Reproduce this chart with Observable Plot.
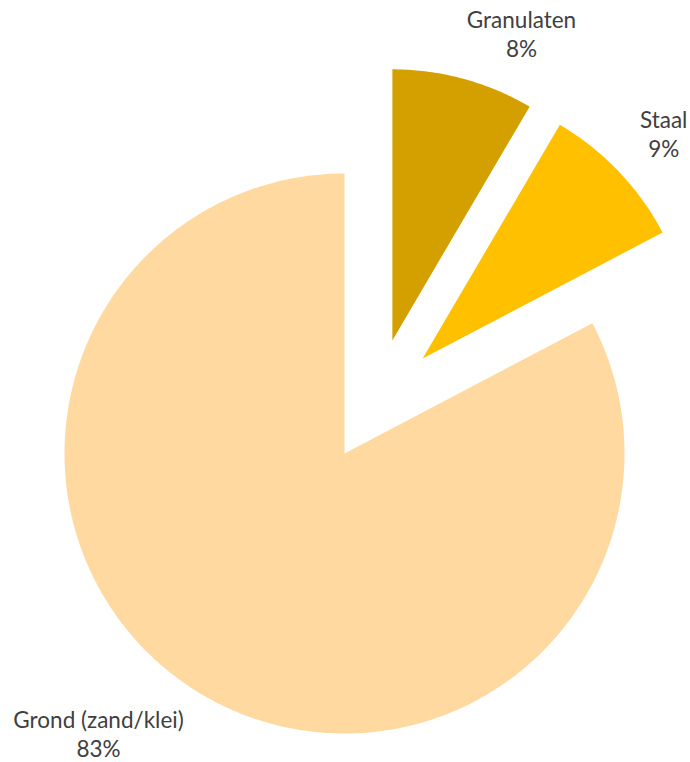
<!DOCTYPE html>
<html>
<head>
<meta charset="utf-8">
<script src="https://cdn.jsdelivr.net/npm/d3@7"></script>
<script src="https://cdn.jsdelivr.net/npm/@observablehq/plot@0.6"></script>
<style>
  html, body { margin: 0; padding: 0; background: #fff; }
  #chart svg { display: block; }
</style>
</head>
<body>
<div id="chart"></div>
<script>
// Data
const categories = ["Granulaten", "Staal", "Grond (zand/klei)"];
const shares = [8.45, 8.85, 82.7];           // percent
const percentLabels = ["8%", "9%", "83%"];

// Styling (not data)
const colors = ["#D4A000", "#FFC000", "#FFD9A0"];
const sliceRadius = [0.968, 0.968, 1.0];      // relative radius
const explode = [[0.171, 0.404], [0.279, 0.339], [0, 0]]; // slice offsets (x, y-up)
const labelPolar = [[1.628, 22.85], [1.615, 44.9], [1.331, 221.3]]; // [r, angle deg]

const W = 690, H = 762, R = 280, CX = 344, CY = 453;

const pie = d3.pie().sort(null).value(d => d.value);
const arcs = pie(categories.map((c, i) => ({name: c, value: shares[i], i})));

const polys = arcs.map(a => {
  const i = a.data.i;
  const [ox, oy] = explode[i];
  const r = sliceRadius[i];
  const pts = [{name: a.data.name, x: ox, y: oy}];
  const n = Math.max(8, Math.ceil((a.endAngle - a.startAngle) / 0.01));
  for (let k = 0; k <= n; k++) {
    const t = a.startAngle + (a.endAngle - a.startAngle) * k / n;
    pts.push({name: a.data.name, x: ox + r * Math.sin(t), y: oy + r * Math.cos(t)});
  }
  return pts;
});

const labels = arcs.map(a => {
  const i = a.data.i;
  const [lr, ang] = labelPolar[i];
  const t = ang * Math.PI / 180;
  return {x: lr * Math.sin(t), y: lr * Math.cos(t), text: categories[i] + "\n" + percentLabels[i]};
});

const chart = Plot.plot({
  width: W,
  height: H,
  margin: 0,
  x: {domain: [-CX / R, (W - CX) / R], range: [0, W], axis: null},
  y: {domain: [CY / R, -(H - CY) / R], range: [0, H], axis: null},
  marks: [
    ...polys.map((pts, i) => Plot.line(pts, {
      x: "x", y: "y", curve: "linear-closed", fill: colors[i], stroke: null
    })),
    Plot.text(labels, {
      x: "x", y: "y", text: "text",
      fontSize: 22.5, lineHeight: 1.3, fill: "#404040",
      fontFamily: "Lato, 'Open Sans', sans-serif"
    })
  ]
});

document.getElementById("chart").appendChild(chart);
</script>
</body>
</html>
